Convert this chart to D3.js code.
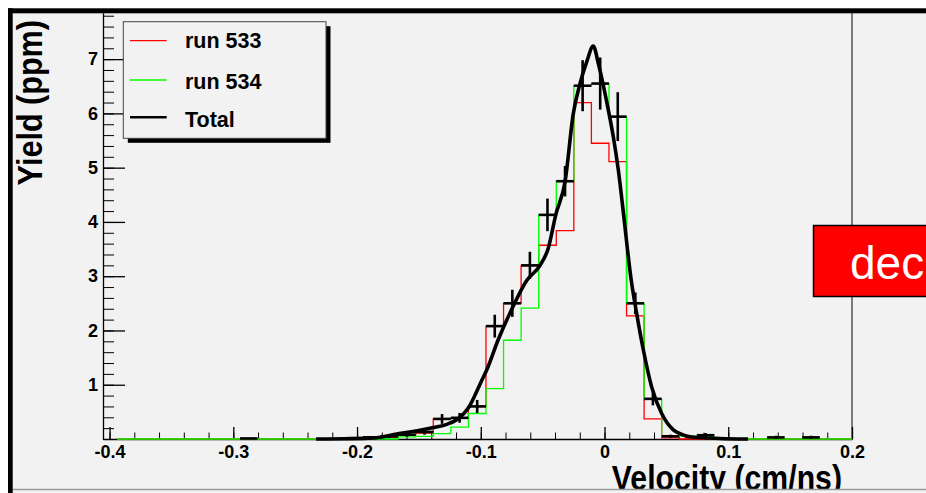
<!DOCTYPE html>
<html><head><meta charset="utf-8">
<script src="https://cdn.jsdelivr.net/npm/d3@7"></script>
<style>html,body{margin:0;padding:0;background:#fff;overflow:hidden}</style>
</head><body>
<svg id="c" width="926" height="493" xmlns="http://www.w3.org/2000/svg"></svg>
<script>
// ---- data ----
const binLo = -0.394, binWidth = 0.0142;   // histogram binning (42 bins)
const run533 = [0,0,0,0,0,0,0,0,0,0,0,0,0,0,
  0.02,0.03,0.07,0.11,0.37,0.38,0.61,2.08,2.50,3.19,3.57,3.84,6.20,5.45,5.11,2.27,0.37,0.02,
  0,0,0,0,0,0,0,0,0,0];
const run534 = [0,0,0,0,0,0,0,0,0,0,0,0,0,0,0,0,
  0.04,0.05,0.10,0.22,0.47,0.93,1.82,2.41,4.13,4.75,6.51,6.55,5.94,2.50,0.73,0.06,0.05,0.04,
  0,0,0,0,0,0,0,0];
const totalBins = [7,14,15,16,17,18,19,20,21,22,23,24,25,26,27,28,29,30,31,33,37,39];
const totalVals = [0.01,0.03,0.05,0.08,0.13,0.37,0.39,0.60,2.08,2.50,3.20,4.13,4.75,6.51,6.55,5.94,2.50,0.74,0.05,0.07,0.03,0.03];
const totalErrs = [0.01,0.02,0.03,0.04,0.05,0.09,0.09,0.12,0.21,0.25,0.25,0.30,0.28,0.47,0.48,0.45,0.20,0.12,0.03,0.04,0.03,0.03];
const fitV = [-0.2331,-0.2097,-0.1868,-0.1679,-0.1410,-0.1275,-0.1168,-0.1101,-0.1046,-0.0998,-0.0952,-0.0861,-0.0750,-0.0629,-0.0521,-0.0454,-0.0394,-0.0319,-0.0252,-0.0198,-0.0144,-0.0091,-0.0050,-0.0010,0.0031,0.0071,0.0112,0.0147,0.0171,0.0212,0.0260,0.0314,0.0381,0.0462,0.0556,0.0610,0.0691,0.0933,0.1160];
const fitY = [0,0.005,0.02,0.09,0.20,0.27,0.40,0.57,0.81,1.05,1.27,1.82,2.39,2.92,3.20,3.52,4.13,4.74,6.00,6.55,6.95,7.24,6.92,6.52,6.06,5.57,4.95,4.28,3.79,2.99,2.31,1.64,0.96,0.47,0.17,0.10,0.04,0.01,0];
const xTickValues = [-0.4,-0.3,-0.2,-0.1,0,0.1,0.2];
const xTickLabels = ["-0.4","-0.3","-0.2","-0.1","0","0.1","0.2"];
const yTickValues = [1,2,3,4,5,6,7];
const yTickLabels = ["1","2","3","4","5","6","7"];
const legendNames = ["run 533","run 534","Total"];
const xTitle = "Velocity (cm/ns)";
const yTitle = "Yield (ppm)";
const boxText = "dec";

// ---- layout ----
const FONT = '"Liberation Sans", Arial, Helvetica, sans-serif';
const svg = d3.select("#c");
const x = d3.scaleLinear().domain([-0.4053, 0.2]).range([103, 852]);
const y = d3.scaleLinear().domain([0, 7.85]).range([439, 13]);

// page background & frame
svg.append("rect").attr("x",0).attr("y",0).attr("width",926).attr("height",493).attr("fill","#ffffff");
svg.append("rect").attr("x",8).attr("y",8).attr("width",918).attr("height",485).attr("fill","#f2f2f2");

const defs = svg.append("defs");
defs.append("clipPath").attr("id","plotclip").append("rect")
  .attr("x",103).attr("y",13).attr("width",749).attr("height",430);
defs.append("clipPath").attr("id","pageclip").append("rect")
  .attr("x",0).attr("y",0).attr("width",926).attr("height",489);

// right frame line
svg.append("line").attr("x1",852).attr("x2",852).attr("y1",13).attr("y2",439)
  .attr("stroke","#555").attr("stroke-width",1.5);

// axes: minor ticks
const xMinor = d3.range(-0.4, 0.2001, 0.02);
const yMinor = d3.range(0, 7.85, 0.2);
svg.append("g").attr("transform","translate(0,439)")
  .call(d3.axisBottom(x).tickValues(xMinor).tickSize(-6.5).tickSizeOuter(0).tickFormat(""))
  .call(g => g.selectAll("line,path").attr("stroke","#000"));
svg.append("g").attr("transform","translate(103,0)")
  .call(d3.axisLeft(y).tickValues(yMinor).tickSize(-11).tickSizeOuter(0).tickFormat(""))
  .call(g => g.selectAll("line,path").attr("stroke","#000"));
// major ticks with labels
const gx = svg.append("g").attr("transform","translate(0,439)")
  .call(d3.axisBottom(x).tickValues(xTickValues).tickSize(-12).tickSizeOuter(0).tickPadding(6)
        .tickFormat((d,i) => xTickLabels[i]));
gx.selectAll("line,path").attr("stroke","#000").attr("stroke-width",1.3);
gx.selectAll("text").attr("font-family",FONT).attr("font-weight","bold").attr("font-size",18).attr("fill","#000");
const gy = svg.append("g").attr("transform","translate(103,0)")
  .call(d3.axisLeft(y).tickValues(yTickValues).tickSize(-22).tickSizeOuter(0).tickPadding(5)
        .tickFormat((d,i) => yTickLabels[i]));
gy.selectAll("line,path").attr("stroke","#000").attr("stroke-width",1.3);
gy.selectAll("text").attr("font-family",FONT).attr("font-weight","bold").attr("font-size",18).attr("fill","#000");

// histograms
const plot = svg.append("g").attr("clip-path","url(#plotclip)");
function histPoints(vals){
  const pts = vals.map((v,i) => [binLo + i*binWidth, v]);
  pts.push([binLo + vals.length*binWidth, vals[vals.length-1]]);
  return pts;
}
const stepLine = d3.line().x(d => x(d[0])).y(d => y(d[1])).curve(d3.curveStepAfter);
plot.append("path").attr("d", stepLine(histPoints(run533))).attr("fill","none")
  .attr("stroke","#ff0000").attr("stroke-width",1.3);
plot.append("path").attr("d", stepLine(histPoints(run534))).attr("fill","none")
  .attr("stroke","#00ff00").attr("stroke-width",1.3);

// total points with error bars
const pts = totalBins.map((b,i) => ({lo: binLo + b*binWidth, hi: binLo + (b+1)*binWidth, v: totalVals[i], e: totalErrs[i]}));
const pg = plot.append("g").attr("stroke","#000").attr("stroke-width",2.6);
pg.selectAll("line.h").data(pts).join("line").attr("class","h")
  .attr("x1", d => x(d.lo)).attr("x2", d => x(d.hi))
  .attr("y1", d => y(d.v)).attr("y2", d => y(d.v));
pg.selectAll("line.v").data(pts).join("line").attr("class","v")
  .attr("x1", d => x((d.lo+d.hi)/2)).attr("x2", d => x((d.lo+d.hi)/2))
  .attr("y1", d => y(d.v + d.e)).attr("y2", d => y(Math.max(0, d.v - d.e)));

// fit curve
const fitLine = d3.line().x((d,i) => x(fitV[i])).y((d,i) => y(fitY[i])).curve(d3.curveMonotoneX);
plot.append("path").attr("d", fitLine(fitV)).attr("fill","none")
  .attr("stroke","#000").attr("stroke-width",3.6).attr("stroke-linejoin","round");

// legend
const lg = svg.append("g");
lg.append("rect").attr("x",127.8).attr("y",26.2).attr("width",202.7).attr("height",116.6).attr("fill","#000");
lg.append("rect").attr("x",123.3).attr("y",21.7).attr("width",202.7).attr("height",116.6)
  .attr("fill","#f2f2f2").attr("stroke","#444").attr("stroke-width",1);
const legColors = ["#ff0000","#00ff00","#000000"];
const legWidths = [1.3,1.3,2.6];
const legLineY = [40.7, 80, 117.3];
const legTextY = [48.3, 89.3, 126.7];
legendNames.forEach((n,i) => {
  lg.append("line").attr("x1",130).attr("x2",166.7).attr("y1",legLineY[i]).attr("y2",legLineY[i])
    .attr("stroke",legColors[i]).attr("stroke-width",legWidths[i]);
  lg.append("text").attr("x",185).attr("y",legTextY[i]).text(n)
    .attr("font-family",FONT).attr("font-weight","bold").attr("font-size",21.5).attr("fill","#000");
});

// titles
const tg = svg.append("g").attr("clip-path","url(#pageclip)");
tg.append("text").attr("transform","translate(842,490) scale(0.84,1)").attr("text-anchor","end")
  .attr("font-family",FONT).attr("font-weight","bold").attr("font-size",36).attr("fill","#000").text(xTitle);
tg.append("text").attr("transform","translate(42,20) rotate(-90) scale(0.85,1)").attr("text-anchor","end")
  .attr("font-family",FONT).attr("font-weight","bold").attr("font-size",36).attr("fill","#000").text(yTitle);

// red "dec" box
svg.append("rect").attr("x",813.5).attr("y",225.5).attr("width",200).attr("height",71)
  .attr("fill","#ff0000").attr("stroke","#000").attr("stroke-width",1.5);
svg.append("text").attr("x",850).attr("y",278.5).text(boxText)
  .attr("font-family",FONT).attr("font-size",46).attr("fill","#fff");

// outer frame borders
svg.append("rect").attr("x",8).attr("y",489).attr("width",918).attr("height",4).attr("fill","#f2f2f2");
svg.append("line").attr("x1",12).attr("x2",926).attr("y1",489.5).attr("y2",489.5).attr("stroke","#9a9a9a").attr("stroke-width",1.5);
svg.append("rect").attr("x",8).attr("y",8.3).attr("width",918).attr("height",5).attr("fill","#000");
svg.append("rect").attr("x",8).attr("y",8.3).attr("width",4.7).attr("height",485).attr("fill","#000");
</script>
</body></html>
